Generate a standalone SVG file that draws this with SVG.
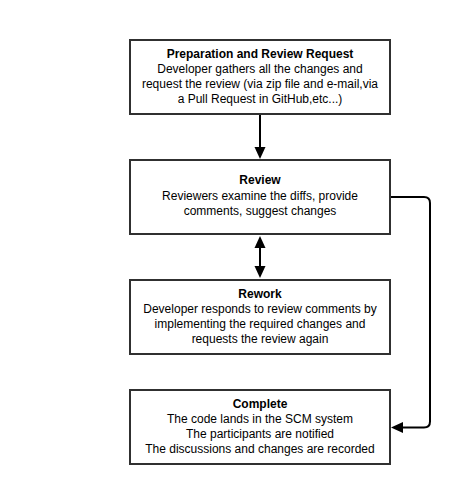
<svg xmlns="http://www.w3.org/2000/svg" width="454" height="485" viewBox="0 0 454 485">
  <style>
    .box { fill: #ffffff; stroke: #303030; stroke-width: 2; }
    .t { font-family: "Liberation Sans", Arial, Helvetica, sans-serif; font-size: 12px; fill: #000000; text-anchor: middle; }
    .b { font-weight: bold; }
    .conn { fill: none; stroke: #000000; stroke-width: 2; }
  </style>
  <defs>
    <marker id="arrow" viewBox="0 0 12 12" markerWidth="12" markerHeight="12" markerUnits="userSpaceOnUse" refX="2" refY="6" orient="auto-start-reverse">
      <path d="M0,0.5 L12,6 L0,11.5 z" fill="#000000"/>
    </marker>
  </defs>
  <rect width="454" height="485" fill="#ffffff"/>

  <g id="connectors">
    <path class="conn" d="M260,114 V149" marker-end="url(#arrow)"/>
    <path class="conn" d="M260,246 V268" marker-start="url(#arrow)" marker-end="url(#arrow)"/>
    <path class="conn" d="M390,197 H424 Q430,197 430,203 V421.5 Q430,427.5 424,427.5 H401" marker-end="url(#arrow)"/>
  </g>

  <g id="preparation">
    <rect class="box" x="130" y="40" width="260" height="74"/>
    <text class="t b" x="260" y="58">Preparation and Review Request</text>
    <text class="t" x="260" y="73">Developer gathers all the changes and</text>
    <text class="t" x="260" y="88">request the review (via zip file and e-mail,via</text>
    <text class="t" x="260" y="103">a Pull Request in GitHub,etc...)</text>
  </g>

  <g id="review">
    <rect class="box" x="130" y="160" width="260" height="74"/>
    <text class="t b" x="260" y="184">Review</text>
    <text class="t" x="260" y="199.5">Reviewers examine the diffs, provide</text>
    <text class="t" x="260" y="215">comments, suggest changes</text>
  </g>

  <g id="rework">
    <rect class="box" x="130" y="280" width="260" height="74"/>
    <text class="t b" x="260" y="298">Rework</text>
    <text class="t" x="260" y="313">Developer responds to review comments by</text>
    <text class="t" x="260" y="328">implementing the required changes and</text>
    <text class="t" x="260" y="343">requests the review again</text>
  </g>

  <g id="complete">
    <rect class="box" x="130" y="390" width="260" height="74"/>
    <text class="t b" x="260" y="408">Complete</text>
    <text class="t" x="260" y="423">The code lands in the SCM system</text>
    <text class="t" x="260" y="438">The participants are notified</text>
    <text class="t" x="260" y="453">The discussions and changes are recorded</text>
  </g>
</svg>
